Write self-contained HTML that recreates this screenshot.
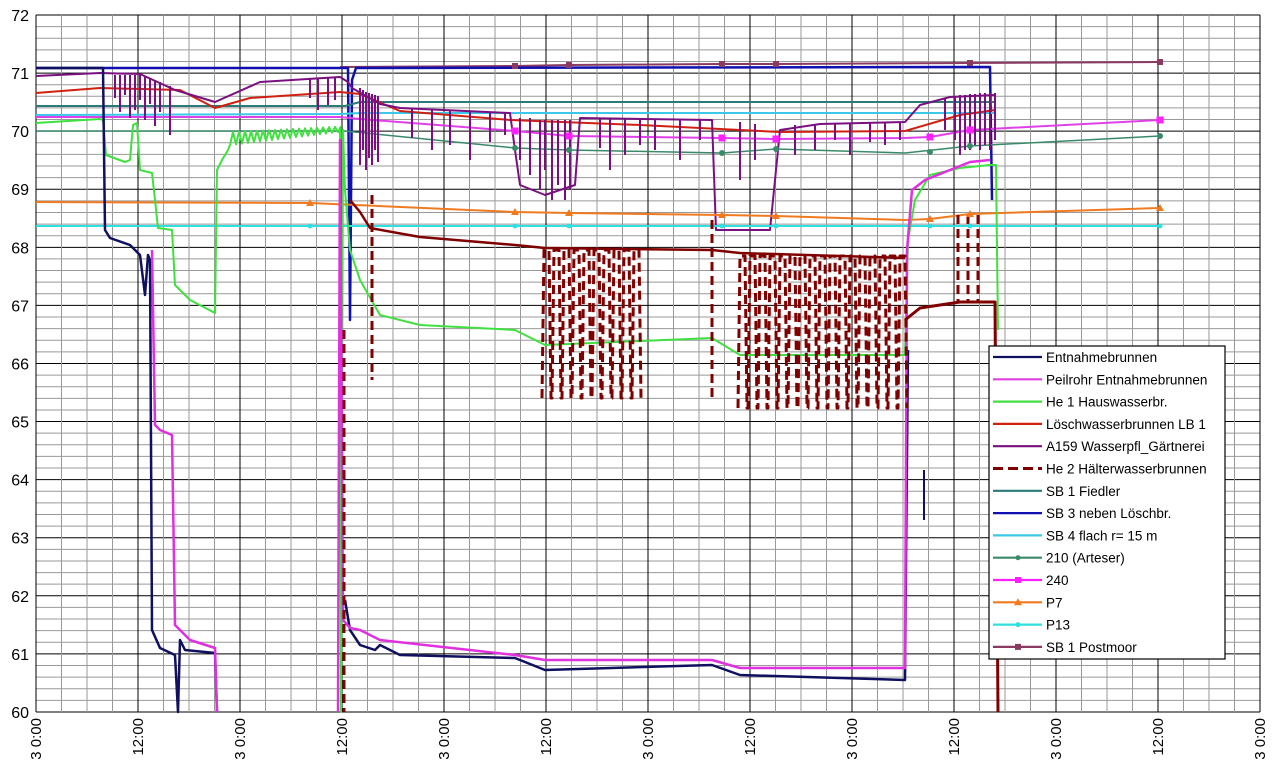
<!DOCTYPE html>
<html><head><meta charset="utf-8"><style>
html,body{margin:0;padding:0;background:#fff;width:1280px;height:760px;overflow:hidden}
svg{display:block}
text{font-family:"Liberation Sans",Arial,sans-serif}
</style></head><body>
<svg width="1280" height="760" viewBox="0 0 1280 760" xmlns="http://www.w3.org/2000/svg">
<g id="grid"></g>
<g fill="none" stroke-linejoin="round" id="series">
<polyline stroke="#8b3a62" stroke-width="2" points="340,67 515,66 569,65 722,64 776,64 970,63 1160,62"/>
<polyline stroke="#1010b0" stroke-width="2.5" points="36,68 348,68 350,320 352,80 356,68 990,67 992,200"/>
<polyline stroke="#2a7a78" stroke-width="2" points="36,106 345,106 360,102 995,102"/>
<polyline stroke="#3cc8e8" stroke-width="2" points="36,115 340,114 360,113 995,113"/>
<polyline stroke="#e040e8" stroke-width="2" points="36,117 340,117 360,119 515,131 569,136 722,138 776,139 905,138 930,137 970,130 1160,120"/>
<polyline stroke="#3a8a6a" stroke-width="1.5" points="36,131 345,131 515,148 569,150 722,153 776,149 905,153 970,146 1160,136"/>
<polyline stroke="#d02010" stroke-width="2" points="36,93 100,88 180,90 215,108 250,98 340,92 360,94 400,111 510,120 640,125 780,132 905,131 960,115 995,110"/>
<polyline stroke="#7a1080" stroke-width="2" points="36,76 100,73 140,74 175,90 215,102 260,82 340,77 348,82 352,88 380,104 400,108 510,113 515,150 520,185 545,195 575,185 580,118 712,120 716,230 770,230 780,130 820,124 905,122 920,105 950,97 995,95"/>
<g stroke="#7a1080" stroke-width="2">
<path d="M115,75V98M120,75V112M125,75V95M130,75V118M135,75V110M140,75V100M145,77V120M150,78V104M155,80V126M160,82V112M170,86V135M310,78V98M318,78V110M328,78V105M335,78V100"/>
<path d="M360,88V165M363,90V150M366,92V170M369,93V158M372,94V165M375,95V150M378,96V162M412,108V138M432,110V150M450,110V145M470,111V160M490,112V142M505,113V135M520,118V160M530,118V175M540,120V190M545,120V170M552,120V200M558,120V185M565,120V200M570,120V190M600,118V148M610,118V170M625,118V155M640,118V145M655,119V150M680,119V160M700,120V140M740,122V180M755,124V160M795,125V155M815,124V150M835,124V140M850,123V155M870,123V142M885,123V145M900,122V140M945,98V130M955,96V140M960,95V155M965,95V150M970,94V150M975,94V145M980,93V150M985,93V145M990,93V150M995,93V140"/>
</g>
<polyline stroke="#f07a20" stroke-width="2" points="36,202 310,203 515,212 569,213 722,215 776,216 905,220 930,219 970,214 1160,208"/>
<polyline stroke="#30e0e0" stroke-width="2" points="36,226 1160,226"/>
<polyline id="green" stroke="#40e040" stroke-width="2" points=""/>
<polyline stroke="#101060" stroke-width="2.5" points="36,68 103,68 105,230 110,238 130,245 135,250 140,255 145,295 148,255 150,260 152,630 160,648 175,655 178,712 180,640 185,650 215,653 217,712"/>
<polyline stroke="#101060" stroke-width="2.5" points="345,600 350,630 360,645 375,650 380,645 400,655 515,658 545,670 712,665 740,675 905,680 906,560 908,350"/>
<polyline stroke="#101060" stroke-width="2" points="924,470 924,520"/>
<polyline stroke="#e030e0" stroke-width="2.5" points="152,250 155,425 160,430 172,435 175,625 190,640 215,648 217,712"/>
<polyline stroke="#e030e0" stroke-width="2.5" points="338,712 340,140 343,620 350,628 360,630 380,640 515,655 545,660 712,660 740,668 905,668 907,250 912,190 925,180 970,162 990,160"/>
<polyline stroke="#800000" stroke-width="2.5" points="350,200 360,212 370,228 420,237 515,245 545,248 712,250 740,253 905,258"/>
<polyline stroke="#800000" stroke-width="3" points="905,320 920,308 960,302 995,302 998,712"/>
<g stroke="#800000" stroke-width="3" stroke-dasharray="9,5">
<path d="M344,330V712M372,195V380M712,220V398M958,215V302M968,215V302M978,215V302"/>
</g>
<polyline id="osc1" stroke="#800000" stroke-width="3" stroke-dasharray="9,5" points=""/>
<polyline id="osc2" stroke="#800000" stroke-width="3" stroke-dasharray="9,5" points=""/>
</g>
<g id="mk"></g>
<g font-size="16" fill="#000" text-anchor="end" id="yl"></g>
<g font-size="15" fill="#000" text-anchor="end" id="xl"></g>
<rect x="989" y="346" width="236" height="313" fill="#fff" stroke="#000" stroke-width="1.2"/>
<g font-size="13.5" fill="#000" id="lg"></g>
</svg>
<script>
var ns="http://www.w3.org/2000/svg";
function el(p,t,a,txt){var e=document.createElementNS(ns,t);for(var k in a)e.setAttribute(k,a[k]);if(txt)e.textContent=txt;p.appendChild(e);return e;}
var Y=function(v){return 15+(72-v)*58.08;};
var g=document.getElementById('grid');
for(var i=0;i<=60;i++){var v=60+i*0.2,y=Y(v),maj=(i%5==0);el(g,'line',{x1:36,x2:1260,y1:y,y2:y,stroke:maj?'#000':'#999','stroke-width':1});}
for(var i=0;i<=48;i++){var x=36+i*25.5,maj=(i%4==0);el(g,'line',{x1:x,x2:x,y1:15,y2:712,stroke:maj?'#000':'#999','stroke-width':1});}
var gp="36,123 100,119 103,120 106,155 125,162 130,160 133,125 137,123 140,170 152,173 155,200 158,228 172,230 175,285 190,300 215,313 217,170 222,160 228,150";
for(var x=230;x<=338;x+=6){gp+=" "+x+","+(145-(x-230)*0.12)+" "+(x+3)+","+(132-(x-230)*0.05);}
gp+=" 340,128 341,712 343,130 345,190 350,250 360,280 380,315 420,325 515,330 545,345 712,338 740,355 905,355 908,240 915,200 930,175 960,168 990,165 996,165 998,330";
document.getElementById('green').setAttribute('points',gp);
function osc(id,x0,x1,top,bot,step){var p=[];for(var x=x0;x<=x1;x+=step){p.push(x+','+bot);p.push((x+step*0.2)+','+top);p.push((x+step*0.7)+','+top);p.push((x+step*0.9)+','+bot);}document.getElementById(id).setAttribute('points',p.join(' '));}
osc('osc1',542,632,250,398,10);
osc('osc2',738,898,256,408,10);
var yl=document.getElementById('yl');
for(var v=60;v<=72;v++){el(yl,'text',{x:29,y:Y(v)+6},String(v));}
var xl=document.getElementById('xl');
for(var i=0;i<=12;i++){var x=36+i*102;var t=(i%2==0)?'3 0:00':'12:00';el(xl,'text',{x:0,y:0,transform:'translate('+(x+5)+',718) rotate(-90)'},t);}
var mk=document.getElementById('mk');
function sq(x,y,c,s){el(mk,'rect',{x:x-s/2,y:y-s/2,width:s,height:s,fill:c});}
function di(x,y,c,s){el(mk,'circle',{cx:x,cy:y,r:s,fill:c});}
function tr(x,y,c){el(mk,'polygon',{points:(x-4)+','+(y+3)+' '+(x+4)+','+(y+3)+' '+x+','+(y-4),fill:c});}
[[515,66],[569,65],[722,64],[776,64],[970,63],[1160,62]].forEach(function(p){sq(p[0],p[1],'#8b3a62',6);});
[[515,131],[569,136],[722,138],[776,139],[930,137],[970,130],[1160,120]].forEach(function(p){sq(p[0],p[1],'#ff20ff',7);});
[[515,148],[569,150],[722,153],[776,149],[930,152],[970,146],[1160,136]].forEach(function(p){di(p[0],p[1],'#3a8a6a',3);});
[[310,203],[515,212],[569,213],[722,215],[776,216],[930,219],[970,214],[1160,208]].forEach(function(p){tr(p[0],p[1],'#f07a20');});
[[310,226],[515,226],[569,226],[722,226],[776,226],[930,226],[970,226],[1160,226]].forEach(function(p){di(p[0],p[1],'#30e0e0',2.5);});
var L=[['Entnahmebrunnen','#101060',0],['Peilrohr Entnahmebrunnen','#e040e0',0],['He 1 Hauswasserbr.','#40e040',0],['Löschwasserbrunnen LB 1','#d02010',0],['A159 Wasserpfl_Gärtnerei','#7a1080',0],['He 2 Hälterwasserbrunnen','#800000',9],['SB 1 Fiedler','#2a7a78',0],['SB 3 neben Löschbr.','#1010b0',0],['SB 4 flach r= 15 m','#3cc8e8',0],['210 (Arteser)','#3a8a6a',1],['240','#ff20ff',2],['P7','#f07a20',3],['P13','#30e0e0',1],['SB 1 Postmoor','#8b3a62',2]];
var lg=document.getElementById('lg');
L.forEach(function(r,i){var y=357+i*22.3;var a={x1:993,x2:1042,y1:y,y2:y,stroke:r[1],'stroke-width':r[2]==9?3:2.2};if(r[2]==9)a['stroke-dasharray']='10,5';el(lg,'line',a);
if(r[2]==1)el(lg,'circle',{cx:1018,cy:y,r:2.5,fill:r[1]});if(r[2]==2)el(lg,'rect',{x:1015,y:y-3,width:6,height:6,fill:r[1]});if(r[2]==3)el(lg,'polygon',{points:'1014,'+(y+3)+' 1022,'+(y+3)+' 1018,'+(y-4),fill:r[1]});
el(lg,'text',{x:1046,y:y+5},r[0]);});
</script>
</body></html>
